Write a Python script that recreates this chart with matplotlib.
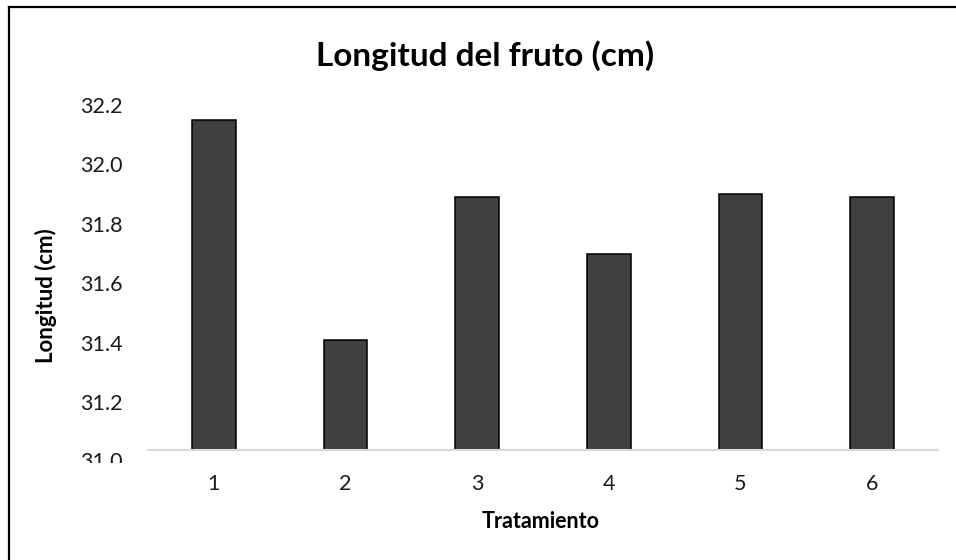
import matplotlib
matplotlib.use("Agg")
import matplotlib.pyplot as plt
from matplotlib.transforms import Bbox, TransformedBbox, ScaledTranslation
from matplotlib.lines import Line2D

categories = ["1", "2", "3", "4", "5", "6"]
values = [32.15, 31.41, 31.89, 31.70, 31.90, 31.89]
ytick_values = [31.2, 31.4, 31.6, 31.8, 32.0, 32.2]
ytick_labels = ["31.2", "31.4", "31.6", "31.8", "32.0", "32.2"]

title = "Longitud del fruto (cm)"
xlabel = "Tratamiento"
ylabel = "Longitud (cm)"

plt.rcParams['font.family'] = ['Lato', 'DejaVu Sans']

W, H = 956, 560
fig = plt.figure(figsize=(W / 100, H / 100), dpi=100)
fig.patch.set_facecolor("white")

left, right, top, bottom = 148, 938, 105, 450
ax = fig.add_axes([left / W, 1 - bottom / H, (right - left) / W, (bottom - top) / H])

x = list(range(1, len(categories) + 1))
ax.bar(x, values, width=0.33, color="#404040", edgecolor="black", linewidth=1.1, zorder=3)

tick_fs = 15.5
ax.set_xlim(0.5, 6.5)
ax.set_ylim(31.04, 32.2)
ax.set_xticks(x)
ax.set_xticklabels(categories)
ax.set_yticks(ytick_values)
ax.set_yticklabels(ytick_labels)
ax.tick_params(axis="y", length=0, pad=18, labelsize=tick_fs, labelcolor="#1a1a1a")
ax.tick_params(axis="x", length=0, pad=17, labelsize=tick_fs, labelcolor="#1a1a1a")

for s in ["top", "right", "left"]:
    ax.spines[s].set_visible(False)
ax.spines["bottom"].set_color("#d9d9d9")
ax.spines["bottom"].set_linewidth(1.5)
ax.spines["bottom"].set_zorder(4)

# clipped "31.0" label at the axis minimum
t = ax.text(0, 31.0, "31.0", ha="right", va="center", fontsize=tick_fs, color="#1a1a1a",
            transform=ax.get_yaxis_transform() + ScaledTranslation(-25 / 100, 0, fig.dpi_scale_trans))
t.set_clip_on(True)
t.set_clip_box(TransformedBbox(Bbox([[0, 97 / H], [1, 1]]), fig.transFigure))

fig.text(485 / W, 1 - 56 / H, title, ha="center", va="center", fontsize=24, fontweight="bold", color="black")
fig.text(541 / W, 1 - 522 / H, xlabel, ha="center", va="center", fontsize=15.5, fontweight="bold", color="black")
fig.text(46 / W, 1 - 296 / H, ylabel, ha="center", va="center", rotation=90, fontsize=16, fontweight="bold", color="black")

# outer chart border (left and top visible)
fig.add_artist(Line2D([9 / W, 9 / W], [0, 1 - 7 / H], transform=fig.transFigure, color="black", linewidth=1.6))
fig.add_artist(Line2D([9 / W, 1], [1 - 7 / H, 1 - 7 / H], transform=fig.transFigure, color="black", linewidth=1.6))

fig.savefig("out.png", dpi=100)
